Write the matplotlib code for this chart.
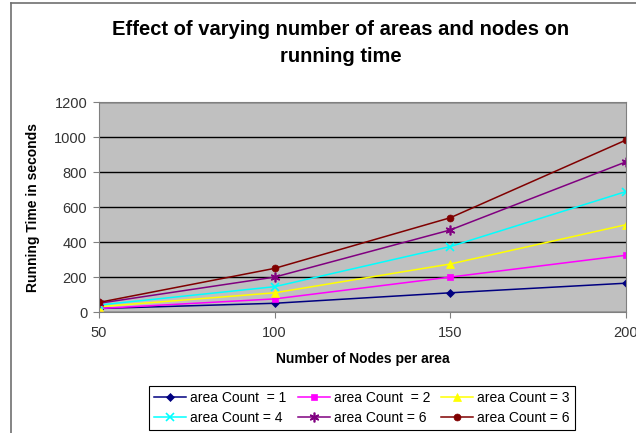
import matplotlib
matplotlib.use("Agg")
import matplotlib.pyplot as plt
from matplotlib.lines import Line2D

plt.rcParams['font.family'] = ['Liberation Sans', 'DejaVu Sans']

nodes = [50, 100, 150, 200]
labels = ["area Count  = 1", "area Count  = 2", "area Count = 3",
          "area Count = 4", "area Count = 6", "area Count = 6"]
area1 = [20, 50, 110, 165]
area2 = [20, 75, 200, 325]
area3 = [30, 110, 275, 500]
area4 = [40, 145, 375, 690]
area5 = [50, 200, 470, 860]
area6 = [55, 250, 540, 985]
series = [area1, area2, area3, area4, area5, area6]
colors = ['#000080', '#FF00FF', '#FFFF00', '#00FFFF', '#800080', '#800000']
markers = ['D', 's', '^', 'x', (6, 2, 0), 'o']
msizes = [4, 5, 6, 6, 7, 5]

fig = plt.figure(figsize=(6.36, 4.33), dpi=100)
ax = fig.add_axes([99/636, 1 - 312/433, (626 - 99)/636, (312 - 102.5)/433])
ax.set_facecolor('#C0C0C0')

handles = []
for s, c, m, ms, lab in zip(series, colors, markers, msizes, labels):
    h, = ax.plot(nodes, s, color=c, marker=m, markersize=ms, lw=1.1, label=lab,
                 markeredgewidth=1.2 if m in ('x', (6, 2, 0)) else 0.5,
                 markeredgecolor=c)
    handles.append(h)

ax.set_xlim(50, 200)
ax.set_ylim(0, 1200)
ax.set_xticks(nodes)
ax.set_yticks(range(0, 1201, 200))
ax.yaxis.grid(True, color='black', lw=1)
ax.set_axisbelow(True)
for sp in ax.spines.values():
    sp.set_color('#808080')
ax.tick_params(direction='out', length=4, color='#808080', labelsize=10.5,
               labelcolor='#333333', pad=4.5)
ax.tick_params(axis='x', pad=6)

ax.set_xlabel('Number of Nodes per area', fontsize=10, fontweight='bold', labelpad=9)
ax.set_ylabel('Running Time in seconds', fontsize=10, fontweight='bold', labelpad=10)

fig.text(341/636, 1 - 43/433, 'Effect of varying number of areas and nodes on\nrunning time',
         ha='center', va='center', fontsize=14.5, fontweight='bold', linespacing=1.55)

# legend filled row-wise as in the reference (matplotlib fills columns first)
order = [0, 3, 1, 4, 2, 5]
leg = fig.legend([handles[i] for i in order], [labels[i] for i in order],
                 loc='center', bbox_to_anchor=(362/636, 1 - 408/433), ncol=3,
                 fontsize=10, frameon=True, fancybox=False, edgecolor='black',
                 handlelength=2.3, handletextpad=0.3, columnspacing=0.8,
                 borderpad=0.35, labelspacing=0.45, framealpha=1)
leg.get_frame().set_linewidth(0.8)

fig.add_artist(Line2D([11/636, 11/636], [0, 1 - 3/433], color='#707070', lw=1.2,
                      transform=fig.transFigure))
fig.add_artist(Line2D([11/636, 1], [1 - 3/433, 1 - 3/433], color='#707070', lw=1.2,
                      transform=fig.transFigure))

fig.savefig('out.png', dpi=100)
